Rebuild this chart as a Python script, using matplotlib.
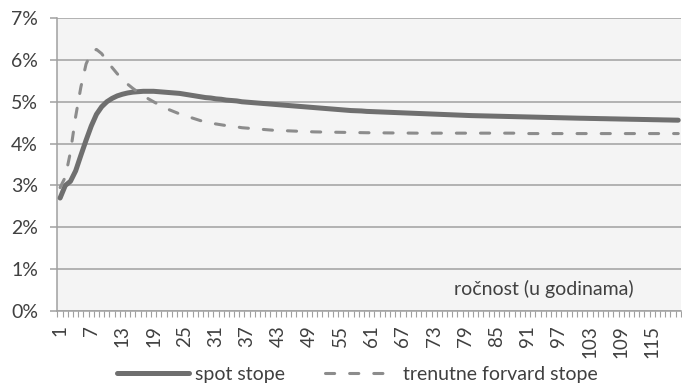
import matplotlib.pyplot as plt
import numpy as np

plt.rcParams['font.family'] = ['Lato', 'DejaVu Sans']

# maturity in years (categories 1..120)
maturity = list(range(1, 121))

spot = [2.70, 3.00, 3.10, 3.35, 3.72, 4.08, 4.42, 4.70, 4.88, 5.00,
        5.08, 5.14, 5.18, 5.21, 5.23, 5.24, 5.25, 5.25, 5.25, 5.24,
        5.23, 5.22, 5.21, 5.20, 5.18, 5.16, 5.14, 5.12, 5.10, 5.09,
        5.07, 5.06, 5.04, 5.03, 5.02, 5.00, 4.99, 4.98, 4.97, 4.96,
        4.95, 4.94, 4.93, 4.92, 4.91, 4.90, 4.89, 4.88, 4.87, 4.86,
        4.85, 4.84, 4.83, 4.82, 4.81, 4.80, 4.79, 4.785, 4.78, 4.77,
        4.765, 4.76, 4.755, 4.75, 4.745, 4.74, 4.735, 4.73, 4.725, 4.72,
        4.715, 4.71, 4.705, 4.70, 4.695, 4.69, 4.685, 4.68, 4.675, 4.67,
        4.667, 4.664, 4.661, 4.658, 4.655, 4.652, 4.649, 4.646, 4.643, 4.64,
        4.637, 4.634, 4.631, 4.628, 4.625, 4.622, 4.619, 4.616, 4.613, 4.61,
        4.607, 4.605, 4.602, 4.600, 4.597, 4.595, 4.592, 4.590, 4.587, 4.585,
        4.582, 4.580, 4.577, 4.575, 4.572, 4.570, 4.567, 4.565, 4.562, 4.56]

forward = [2.95, 3.20, 3.80, 4.65, 5.35, 5.90, 6.18, 6.25, 6.15, 5.98,
           5.82, 5.67, 5.53, 5.42, 5.32, 5.23, 5.15, 5.07, 5.00, 4.93,
           4.87, 4.81, 4.76, 4.71, 4.67, 4.63, 4.59, 4.55, 4.52, 4.49,
           4.47, 4.45, 4.43, 4.41, 4.40, 4.38, 4.37, 4.36, 4.35, 4.34,
           4.33, 4.32, 4.315, 4.31, 4.305, 4.30, 4.295, 4.29, 4.285, 4.28,
           4.278, 4.276, 4.274, 4.272, 4.270, 4.268, 4.266, 4.264, 4.262, 4.26,
           4.259, 4.258, 4.257, 4.256, 4.255, 4.254, 4.253, 4.252, 4.251, 4.25,
           4.25, 4.25, 4.25, 4.25, 4.25, 4.25, 4.25, 4.25, 4.25, 4.25,
           4.25, 4.25, 4.25, 4.25, 4.25, 4.25, 4.25, 4.25, 4.25, 4.25,
           4.24, 4.24, 4.24, 4.24, 4.24, 4.24, 4.24, 4.24, 4.24, 4.24,
           4.24, 4.24, 4.24, 4.24, 4.24, 4.24, 4.24, 4.24, 4.24, 4.24,
           4.24, 4.24, 4.24, 4.24, 4.24, 4.24, 4.24, 4.24, 4.24, 4.24]

y_ticks = [0, 1, 2, 3, 4, 5, 6, 7]
x_labels = list(range(1, 121, 6))

text_col = '#404040'
grid_col = '#a0a0a0'

fig = plt.figure(figsize=(6.82, 3.84), dpi=100)
ax = fig.add_axes([0.0843, 0.19, 0.914, 0.763])
ax.set_facecolor('#f4f4f4')

ax.plot(maturity, spot, color='#6f6f6f', lw=3.6, solid_capstyle='round',
        label='spot stope', zorder=3)
ax.plot(maturity, forward, color='#8c8c8c', lw=2.2, linestyle=(0, (3, 4.9)),
        dash_capstyle='round', label='trenutne forvard stope', zorder=3)

ax.set_xlim(0.5, 120.5)
ax.set_ylim(0, 7)
ax.set_yticks(y_ticks)
ax.set_yticklabels([f'{v}%' for v in y_ticks])
ax.yaxis.grid(True, color=grid_col, lw=1.1)
ax.set_axisbelow(True)

ax.set_xticks(x_labels)
ax.set_xticklabels([str(v) for v in x_labels], rotation=90)
ax.set_xticks(np.arange(0.5, 121, 1), minor=True)
ax.tick_params(axis='x', which='major', length=0, pad=10, labelsize=13.5, labelcolor=text_col)
ax.tick_params(axis='x', which='minor', length=4, width=0.8, color=grid_col)
ax.tick_params(axis='y', length=5, width=1.1, color=grid_col, pad=9, labelsize=14, labelcolor=text_col)

for s in ['top', 'right']:
    ax.spines[s].set_visible(False)
for s in ['left', 'bottom']:
    ax.spines[s].set_color(grid_col)
    ax.spines[s].set_linewidth(1.1)

ax.text(0.78, 0.075, 'ročnost (u godinama)', transform=ax.transAxes,
        ha='center', va='center', fontsize=14, color=text_col)

fig.legend(loc='center', bbox_to_anchor=(0.524, 0.025), ncol=2, frameon=False,
           fontsize=14, labelcolor=text_col, handlelength=3.7, handletextpad=0.3,
           columnspacing=2.1)

fig.savefig('out.png', dpi=100)
